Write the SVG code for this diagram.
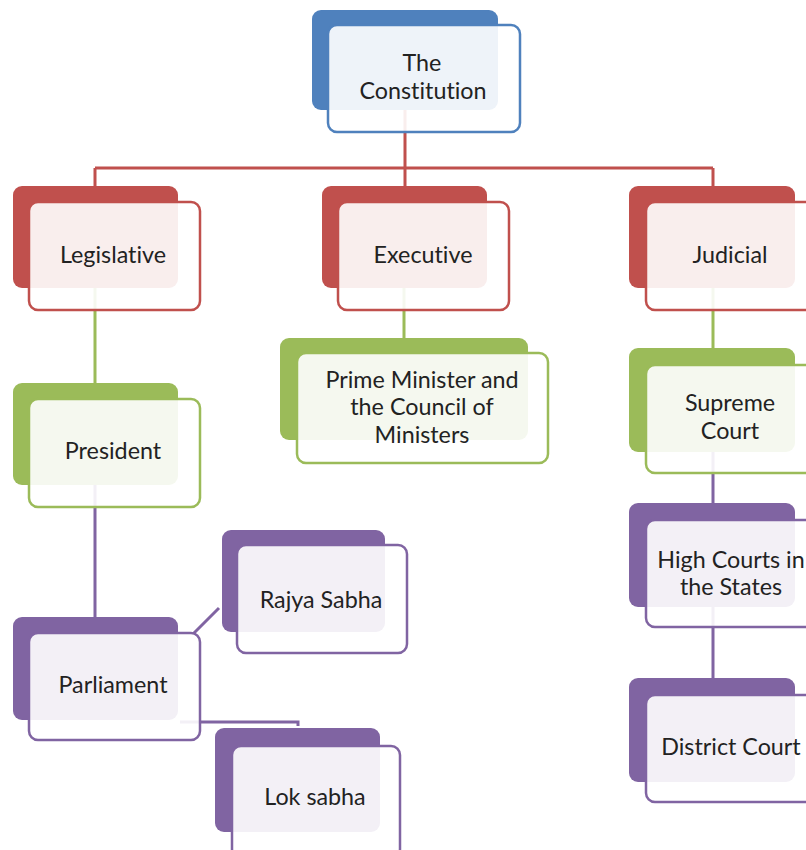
<svg xmlns="http://www.w3.org/2000/svg" width="806" height="850" viewBox="0 0 806 850">
<style>
.bg{fill:#fff}
.back{stroke:none}
.front{fill:#fff;fill-opacity:0.9;stroke-width:2.5}
.blue .back{fill:#4f81bd}.blue .front{stroke:#4f81bd}
.red .back{fill:#c0504d}.red .front{stroke:#c0504d}
.green .back{fill:#9bbb59}.green .front{stroke:#9bbb59}
.purple .back{fill:#8064a2}.purple .front{stroke:#8064a2}
text{font-family:Lato,"Open Sans","Liberation Sans",sans-serif;font-size:23.3px;fill:#222;text-anchor:middle;font-variant-ligatures:none}
.c{fill:none;stroke-width:3}
.cr{stroke:#c0504d}.cg{stroke:#9bbb59}.cp{stroke:#8064a2}
</style>
<rect class="bg" x="0" y="0" width="806" height="850"/>
<g id="connectors">
<path class="c cr" d="M405 110 V168 M95 168 H713 M95 168 V190 M405 168 V190 M713 168 V190"/>
<path class="c cg" d="M95 288 V383 M404 288 V340 M713 288 V350"/>
<path class="c cp" d="M95 485 V620 M713 452 V505 M713 607 V680 M193 634 L219 608 M180 722 H298 V726"/>
</g>
<g id="constitution" class="blue">
<rect class="back" x="312" y="10" width="186" height="100" rx="9"/>
<rect class="front" x="328" y="25" width="192" height="107" rx="9"/>
<text x="422" y="71">The</text>
<text x="423" y="99">Constitution</text>
</g>
<g id="legislative" class="red">
<rect class="back" x="13" y="186" width="165" height="102" rx="9"/>
<rect class="front" x="29" y="202" width="171" height="108" rx="9"/>
<text x="113" y="263">Legislative</text>
</g>
<g id="executive" class="red">
<rect class="back" x="322" y="186" width="165" height="102" rx="9"/>
<rect class="front" x="338" y="202" width="171" height="108" rx="9"/>
<text x="423" y="263">Executive</text>
</g>
<g id="judicial" class="red">
<rect class="back" x="629" y="186" width="166" height="102" rx="9"/>
<rect class="front" x="646" y="202" width="180" height="108" rx="9"/>
<text x="730" y="263">Judicial</text>
</g>
<g id="president" class="green">
<rect class="back" x="13" y="383" width="165" height="102" rx="9"/>
<rect class="front" x="29" y="399" width="171" height="108" rx="9"/>
<text x="113" y="459">President</text>
</g>
<g id="pm" class="green">
<rect class="back" x="280" y="338" width="248" height="102" rx="9"/>
<rect class="front" x="297" y="353" width="251" height="110" rx="9"/>
<text x="422" y="388">Prime Minister and</text>
<text x="422" y="415">the Council of</text>
<text x="422" y="443">Ministers</text>
</g>
<g id="supreme" class="green">
<rect class="back" x="629" y="348" width="166" height="104" rx="9"/>
<rect class="front" x="646" y="365" width="180" height="108" rx="9"/>
<text x="730" y="411">Supreme</text>
<text x="730" y="439">Court</text>
</g>
<g id="parliament" class="purple">
<rect class="back" x="13" y="617" width="165" height="103" rx="9"/>
<rect class="front" x="29" y="633" width="171" height="107" rx="9"/>
<text x="113" y="693">Parliament</text>
</g>
<g id="rajya" class="purple">
<rect class="back" x="222" y="530" width="163" height="102" rx="9"/>
<rect class="front" x="237" y="545" width="170" height="108" rx="9"/>
<text x="321" y="608">Rajya Sabha</text>
</g>
<g id="lok" class="purple">
<rect class="back" x="215" y="728" width="165" height="104" rx="9"/>
<rect class="front" x="232" y="746" width="168" height="112" rx="9"/>
<text x="315" y="805">Lok sabha</text>
</g>
<g id="highcourts" class="purple">
<rect class="back" x="629" y="503" width="166" height="104" rx="9"/>
<rect class="front" x="646" y="520" width="180" height="107" rx="9"/>
<text x="731" y="568">High Courts in</text>
<text x="731" y="595">the States</text>
</g>
<g id="district" class="purple">
<rect class="back" x="629" y="678" width="166" height="104" rx="9"/>
<rect class="front" x="646" y="695" width="180" height="107" rx="9"/>
<text x="731" y="755">District Court</text>
</g>
</svg>
